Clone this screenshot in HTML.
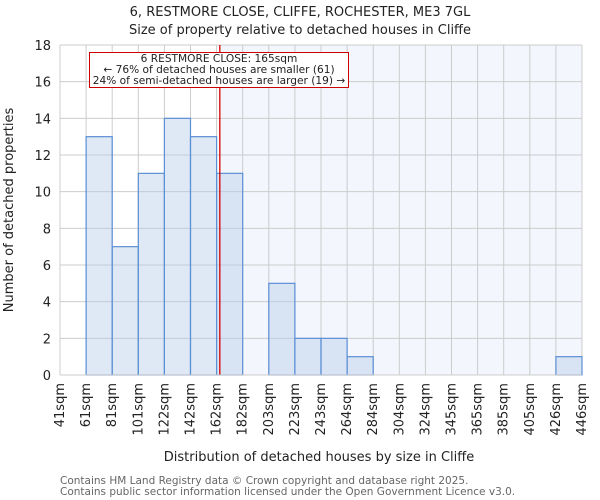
<!DOCTYPE html>
<html><head><meta charset="utf-8"><style>
body{margin:0;background:#fff}
svg{display:block;font-family:"DejaVu Sans","Liberation Sans",sans-serif}
</style></head><body>
<svg width="600" height="500" viewBox="0 0 600 500">
<g id="g"></g>
</svg>
<script>
const categories=["41sqm","61sqm","81sqm","101sqm","122sqm","142sqm","162sqm","182sqm","203sqm","223sqm","243sqm","264sqm","284sqm","304sqm","324sqm","345sqm","365sqm","385sqm","405sqm","426sqm","446sqm"];
const counts=[0,13,7,11,14,13,11,0,5,2,2,1,0,0,0,0,0,0,0,1];
const yTicks=[0,2,4,6,8,10,12,14,16,18];
const propertySize=165;
const sizeMin=41, sizeMax=446;
const NS="http://www.w3.org/2000/svg";
const g=document.getElementById('g');
const X0=60,X1=582,Y0=375,Y1=45,YMAX=18;
const nb=counts.length, bw=(X1-X0)/nb;
const xb=i=>X0+i*bw;
const xs=v=>X0+(v-sizeMin)/(sizeMax-sizeMin)*(X1-X0);
const ys=v=>Y0-(v/YMAX)*(Y0-Y1);
function el(t,a,txt){const e=document.createElementNS(NS,t);for(const k in a)e.setAttribute(k,a[k]);if(txt!=null)e.textContent=txt;g.appendChild(e);return e;}
const px=xs(propertySize);
let r=el('rect',{x:px,y:Y1,width:X1-px,height:Y0-Y1,fill:'#f3f6fd'});


yTicks.forEach(t=>{
 let l=el('line',{x1:X0,x2:X1,y1:ys(t),y2:ys(t),stroke:'#cccccc','stroke-width':1});
 
 
 let tx=el('text',{x:X0-9,y:ys(t)+5,'text-anchor':'end','font-size':13,fill:'#222'},t);
 
 
});
categories.forEach((c,i)=>{
 let l=el('line',{x1:xb(i),x2:xb(i),y1:Y1,y2:Y0,stroke:'#cccccc','stroke-width':1});
 
 
 let x=xb(i)+4, y=383;
 let tx=el('text',{x:x,y:y,transform:`rotate(-90 ${x} ${y})`,'text-anchor':'end','font-size':13,fill:'#222'},c);
 
 
});
counts.forEach((v,i)=>{
 if(v<=0)return;
 let b=el('rect',{x:xb(i),y:ys(v),width:bw,height:Y0-ys(v),fill:'rgba(184,204,233,0.45)',stroke:'#5b8fd6','stroke-width':1.2});
 
 
});
let pl=el('line',{x1:px,x2:px,y1:Y1,y2:Y0,stroke:'#d40000','stroke-width':1.3});


let ax=el('line',{x1:X0,x2:X1,y1:Y0,y2:Y0,stroke:'#cccccc','stroke-width':1});


let bx=el('rect',{x:89.5,y:52.5,width:259,height:35,fill:'#fff',stroke:'#cc0000','stroke-width':1});


[["6 RESTMORE CLOSE: 165sqm",62],["← 76% of detached houses are smaller (61)",73],["24% of semi-detached houses are larger (19) →",84]].forEach(([t,y])=>{
 let tx=el('text',{x:219,y:y,'text-anchor':'middle','font-size':10.6,fill:'#222'},t);
 
 
});
let t1=el('text',{x:300,y:16,'text-anchor':'middle','font-size':13,fill:'#222'},"6, RESTMORE CLOSE, CLIFFE, ROCHESTER, ME3 7GL");


let t2=el('text',{x:300,y:34,'text-anchor':'middle','font-size':13,fill:'#222'},"Size of property relative to detached houses in Cliffe");


let xl=el('text',{x:319,y:461,'text-anchor':'middle','font-size':13,fill:'#222'},"Distribution of detached houses by size in Cliffe");


let yl=el('text',{x:13,y:210,transform:'rotate(-90 13 210)','text-anchor':'middle','font-size':13,fill:'#222'},"Number of detached properties");


let f1=el('text',{x:60,y:484,'font-size':10.5,fill:'#666'},"Contains HM Land Registry data © Crown copyright and database right 2025.");


let f2=el('text',{x:60,y:495,'font-size':10.5,fill:'#666'},"Contains public sector information licensed under the Open Government Licence v3.0.");


</script>
</body></html>
